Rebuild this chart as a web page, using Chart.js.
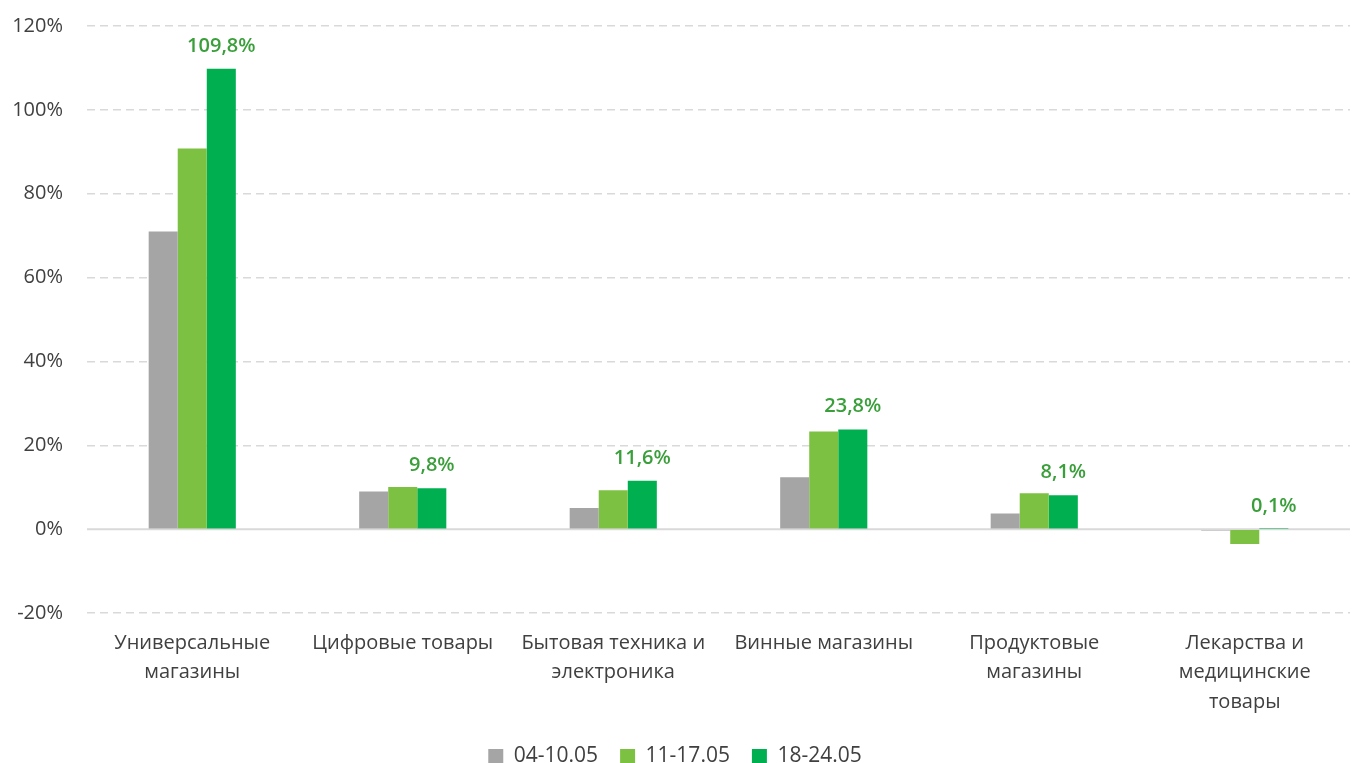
<!DOCTYPE html>
<html>
<head>
<meta charset="utf-8">
<script src="https://cdn.jsdelivr.net/npm/chart.js@4/dist/chart.umd.min.js"></script>
<style>
  html, body { margin: 0; padding: 0; background: #fff; }
  #wrap { width: 1354px; height: 763px; }
</style>
</head>
<body>
<div id="wrap"><canvas id="c"></canvas></div>
<script>
const categories = [
  ['Универсальные', 'магазины'],
  'Цифровые товары',
  ['Бытовая техника и', 'электроника'],
  'Винные магазины',
  ['Продуктовые', 'магазины'],
  ['Лекарства и', 'медицинские', 'товары']
];
const seriesNames = ['04-10.05', '11-17.05', '18-24.05'];
const week1 = [71.0, 9.0, 5.1, 12.4, 3.8, -0.3];
const week2 = [90.8, 10.1, 9.3, 23.3, 8.6, -3.5];
const week3 = [109.8, 9.8, 11.6, 23.8, 8.1, 0.1];
const seriesColors = ['#a5a5a5', '#7dc142', '#00b050'];

const FONT = '"Open Sans", "Noto Sans", sans-serif';

// solid zero line under the bars
const zeroLine = {
  id: 'zeroLine',
  beforeDatasetsDraw(chart) {
    const { ctx, chartArea } = chart;
    const y = chart.scales.y.getPixelForValue(0);
    ctx.save();
    ctx.strokeStyle = '#d9d9d9';
    ctx.lineWidth = 2;
    ctx.beginPath();
    ctx.moveTo(chartArea.left, y);
    ctx.lineTo(chartArea.right, y);
    ctx.stroke();
    ctx.restore();
  }
};

// values above the last series
const valueLabels = {
  id: 'valueLabels',
  afterDatasetsDraw(chart) {
    const ctx = chart.ctx;
    const y = chart.scales.y;
    ctx.save();
    ctx.font = '600 20px ' + FONT;
    ctx.fillStyle = '#3a9f3a';
    ctx.textAlign = 'center';
    ctx.textBaseline = 'alphabetic';
    chart.getDatasetMeta(2).data.forEach((bar, i) => {
      const v = week3[i];
      const txt = v.toFixed(1).replace('.', ',') + '%';
      ctx.fillText(txt, bar.x, y.getPixelForValue(Math.max(v, 0)) - 17);
    });
    ctx.restore();
  }
};

new Chart(document.getElementById('c'), {
  type: 'bar',
  data: {
    labels: categories,
    datasets: [week1, week2, week3].map((d, i) => ({
      label: seriesNames[i],
      data: d,
      backgroundColor: seriesColors[i],
      borderWidth: 0,
      categoryPercentage: 0.414,
      barPercentage: 1
    }))
  },
  options: {
    responsive: true,
    maintainAspectRatio: false,
    animation: false,
    layout: { padding: { top: 0, right: 4, left: 0, bottom: -14 } },
    plugins: {
      tooltip: { enabled: false },
      legend: {
        position: 'bottom',
        labels: {
          font: { family: FONT, size: 21 },
          color: '#404040',
          boxWidth: 15,
          boxHeight: 15,
          padding: 22
        }
      }
    },
    scales: {
      x: {
        grid: { display: false },
        border: { display: false },
        ticks: {
          font: { family: FONT, size: 20, lineHeight: 1.48 },
          color: '#404040',
          maxRotation: 0,
          padding: 7
        }
      },
      y: {
        min: -20,
        max: 120,
        afterFit(scale) {
          scale.width = 87;
          scale.paddingTop = 26;
        },
        border: { display: false, dash: [8, 5] },
        grid: {
          color: (c) => c.tick.value === 0 ? 'rgba(0,0,0,0)' : '#d9d9d9',
          lineWidth: 1.5,
          drawTicks: false
        },
        ticks: {
          stepSize: 20,
          padding: 24,
          font: { family: FONT, size: 20 },
          color: '#404040',
          callback: (v) => v + '%'
        }
      }
    }
  },
  plugins: [zeroLine, valueLabels]
});
</script>
</body>
</html>
